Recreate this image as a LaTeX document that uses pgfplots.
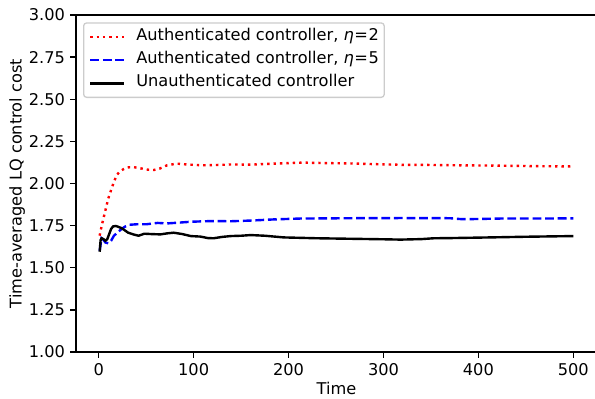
\documentclass[border=0pt]{standalone}
\usepackage{fontspec}
\setmainfont{DejaVu Sans}
\usepackage{pgfplots}
\pgfplotsset{compat=1.18}
\newcommand{\mpfont}{\fontsize{16.2pt}{19pt}\selectfont}
\begin{document}
\mpfont
\begin{tikzpicture}
\begin{axis}[
  at={(0,0)}, anchor=south west,
  scale only axis, width=521pt, height=337pt,
  xmin=-23.95, xmax=524.95, ymin=1, ymax=3,
  xtick={0,100,200,300,400,500},
  ytick={1,1.25,1.5,1.75,2,2.25,2.5,2.75,3},
  y tick label style={/pgf/number format/fixed, /pgf/number format/fixed zerofill, /pgf/number format/precision=2},
  /pgf/number format/assume math mode=true,
  tick align=outside, tick pos=left,
  major tick length=5.7pt,
  every tick/.style={black, line width=1.3pt},
  axis line style={line width=1.3pt},
  tick label style={font=\mpfont},
  xticklabel style={anchor=north, inner sep=0pt, yshift=-5.7pt},
  yticklabel style={anchor=east, inner sep=0pt, xshift=-5.2pt},
  xlabel={Time}, ylabel={Time-averaged LQ control cost},
  label style={font=\mpfont},
  xlabel style={at={(axis description cs:0.5,-0.1276)}, anchor=base, inner sep=0pt},
  ylabel style={at={(axis description cs:-0.1042,0.5)}, anchor=base, inner sep=0pt},
  legend cell align=left,
  legend image code/.code={\draw[#1] (0pt,0pt) -- (33.4pt,0pt);},
  legend style={at={(axis description cs:0.01344,0.97834)}, anchor=north west,
    draw=black!20, line width=1.3pt, rounded corners=3pt, fill=white, fill opacity=0.8, text opacity=1,
    inner xsep=5.3pt, inner ysep=6.2pt, row sep=7.9pt, column sep=0pt,
    font=\mpfont,
    nodes={inner xsep=0pt, inner ysep=0pt, text height=11pt, text depth=4.4pt},
    /tikz/every odd column/.style={column sep=11.6pt}},
]
\addplot[red, line width=2.4pt, dash pattern=on 2.4pt off 4.0pt] coordinates {
(1,1.69)(2,1.72)(4,1.77)(7,1.84)(10,1.91)(13,1.96)(16,2.01)(19,2.05)(22,2.07)(26,2.085)(30,2.095)(36,2.098)(44,2.09)(52,2.082)(58,2.08)(64,2.088)(72,2.108)(82,2.118)(95,2.112)(110,2.108)(125,2.11)(140,2.113)(160,2.112)(185,2.118)(215,2.124)(240,2.121)(265,2.119)(290,2.115)(318,2.111)(350,2.11)(380,2.108)(420,2.106)(460,2.103)(500,2.101)
};
\addlegendentry{Authenticated controller, \textit{η}\kern0.6pt=\kern0.6pt2}
\addplot[blue, line width=2.4pt, dash pattern=on 8.8pt off 3.8pt] coordinates {
(1,1.60)(2,1.64)(3,1.675)(5,1.665)(7,1.65)(10,1.645)(13,1.66)(16,1.69)(20,1.71)(24,1.73)(28,1.745)(32,1.755)(40,1.758)(50,1.758)(62,1.766)(72,1.763)(85,1.768)(97,1.773)(118,1.777)(139,1.776)(160,1.78)(185,1.787)(212,1.792)(265,1.794)(318,1.795)(370,1.794)(381,1.789)(395,1.789)(423,1.792)(460,1.792)(500,1.793)
};
\addlegendentry{Authenticated controller, \textit{η}\kern0.6pt=\kern0.6pt5}
\addplot[black, line width=2.4pt] coordinates {
(1,1.595)(2,1.665)(3,1.675)(5,1.67)(7,1.66)(9,1.67)(11,1.70)(13,1.73)(15,1.745)(18,1.748)(21,1.742)(24,1.735)(27,1.724)(31,1.708)(37,1.697)(42,1.69)(48,1.702)(55,1.70)(65,1.698)(72,1.704)(79,1.708)(88,1.70)(97,1.688)(107,1.685)(115,1.676)(121,1.675)(130,1.683)(139,1.688)(150,1.69)(160,1.694)(175,1.69)(195,1.68)(230,1.675)(265,1.672)(300,1.669)(318,1.667)(340,1.670)(353,1.675)(370,1.676)(412,1.68)(450,1.684)(500,1.688)
};
\addlegendentry{Unauthenticated controller}
\end{axis}
\pgfresetboundingbox
\path[use as bounding box] (-76pt,-47pt) rectangle (519pt,352pt);
\end{tikzpicture}
\end{document}
